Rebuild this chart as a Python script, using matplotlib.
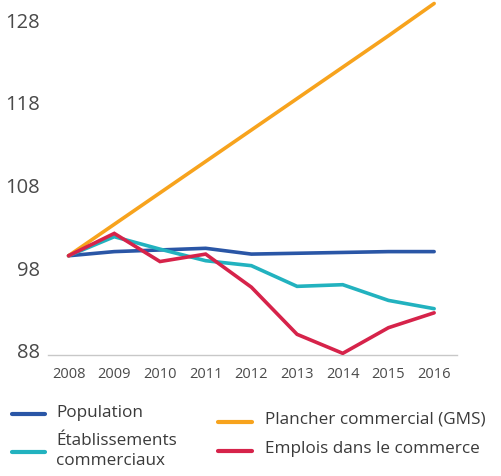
import matplotlib
matplotlib.use("Agg")
import matplotlib.pyplot as plt
from matplotlib.lines import Line2D
from matplotlib.transforms import ScaledTranslation

plt.rcParams['font.family'] = ['Open Sans', 'DejaVu Sans']

years = [2008, 2009, 2010, 2011, 2012, 2013, 2014, 2015, 2016]
population = [100, 100.5, 100.7, 100.9, 100.2, 100.3, 100.4, 100.5, 100.5]
etablissements = [100, 102.3, 100.8, 99.4, 98.8, 96.3, 96.5, 94.6, 93.6]
plancher = [100, 103.8, 107.6, 111.4, 115.2, 119.0, 122.8, 126.6, 130.5]
emplois = [100, 102.7, 99.3, 100.2, 96.2, 90.5, 88.2, 91.3, 93.1]
yticks = [88, 98, 108, 118, 128]

labels = ["Population", "Établissements\ncommerciaux",
          "Plancher commercial (GMS)", "Emplois dans le commerce"]
colors = ["#2a56a6", "#22b2bf", "#f7a31d", "#d6234a"]

W, H = 501, 476
fig = plt.figure(figsize=(W / 100, H / 100), dpi=100)
ax = fig.add_axes([48 / W, 1 - 355 / H, (457 - 48) / W, (355 - 1) / H])

series = [population, etablissements, plancher, emplois]
order = [2, 0, 1, 3]
for i in order:
    ax.plot(years, series[i], color=colors[i], lw=2.6, solid_capstyle='round',
            solid_joinstyle='miter', zorder=3 + i)

ax.set_xlim(2007.55, 2016.5)
ax.set_ylim(88, 130.8)
ax.set_yticks(yticks)
ax.set_yticklabels([str(t) for t in yticks])
ax.set_xticks(years)
ax.set_xticklabels([str(y) for y in years])
for s in ['top', 'right', 'left']:
    ax.spines[s].set_visible(False)
ax.spines['bottom'].set_color('#c8c8c8')
ax.spines['bottom'].set_linewidth(1.0)
ax.tick_params(axis='y', length=0, pad=6, labelsize=14.5, labelcolor='#4a4a4a')
ax.tick_params(axis='x', length=0, pad=9, labelsize=10.5, labelcolor='#4a4a4a')
off = ScaledTranslation(0, 4 / 100, fig.dpi_scale_trans)
for lab in ax.get_yticklabels():
    lab.set_transform(lab.get_transform() + off)

# legend drawn manually (two columns)
def fx(px):
    return px / W

def fy(py):
    return 1 - py / H

entries = [
    (0, 12, 45, 414, 56, 413),
    (1, 12, 45, 452, 56, 451),
    (2, 218, 252, 422, 265, 420),
    (3, 218, 252, 451, 265, 449),
]
for idx, x0, x1, ly, tx, ty in entries:
    fig.add_artist(Line2D([fx(x0), fx(x1)], [fy(ly), fy(ly)], color=colors[idx],
                          lw=3, solid_capstyle='round', transform=fig.transFigure))
    fig.text(fx(tx), fy(ty), labels[idx], fontsize=12.3, color='#3a3a3a',
             va='center', ha='left', linespacing=1.3)

fig.savefig("out.png", dpi=100)
